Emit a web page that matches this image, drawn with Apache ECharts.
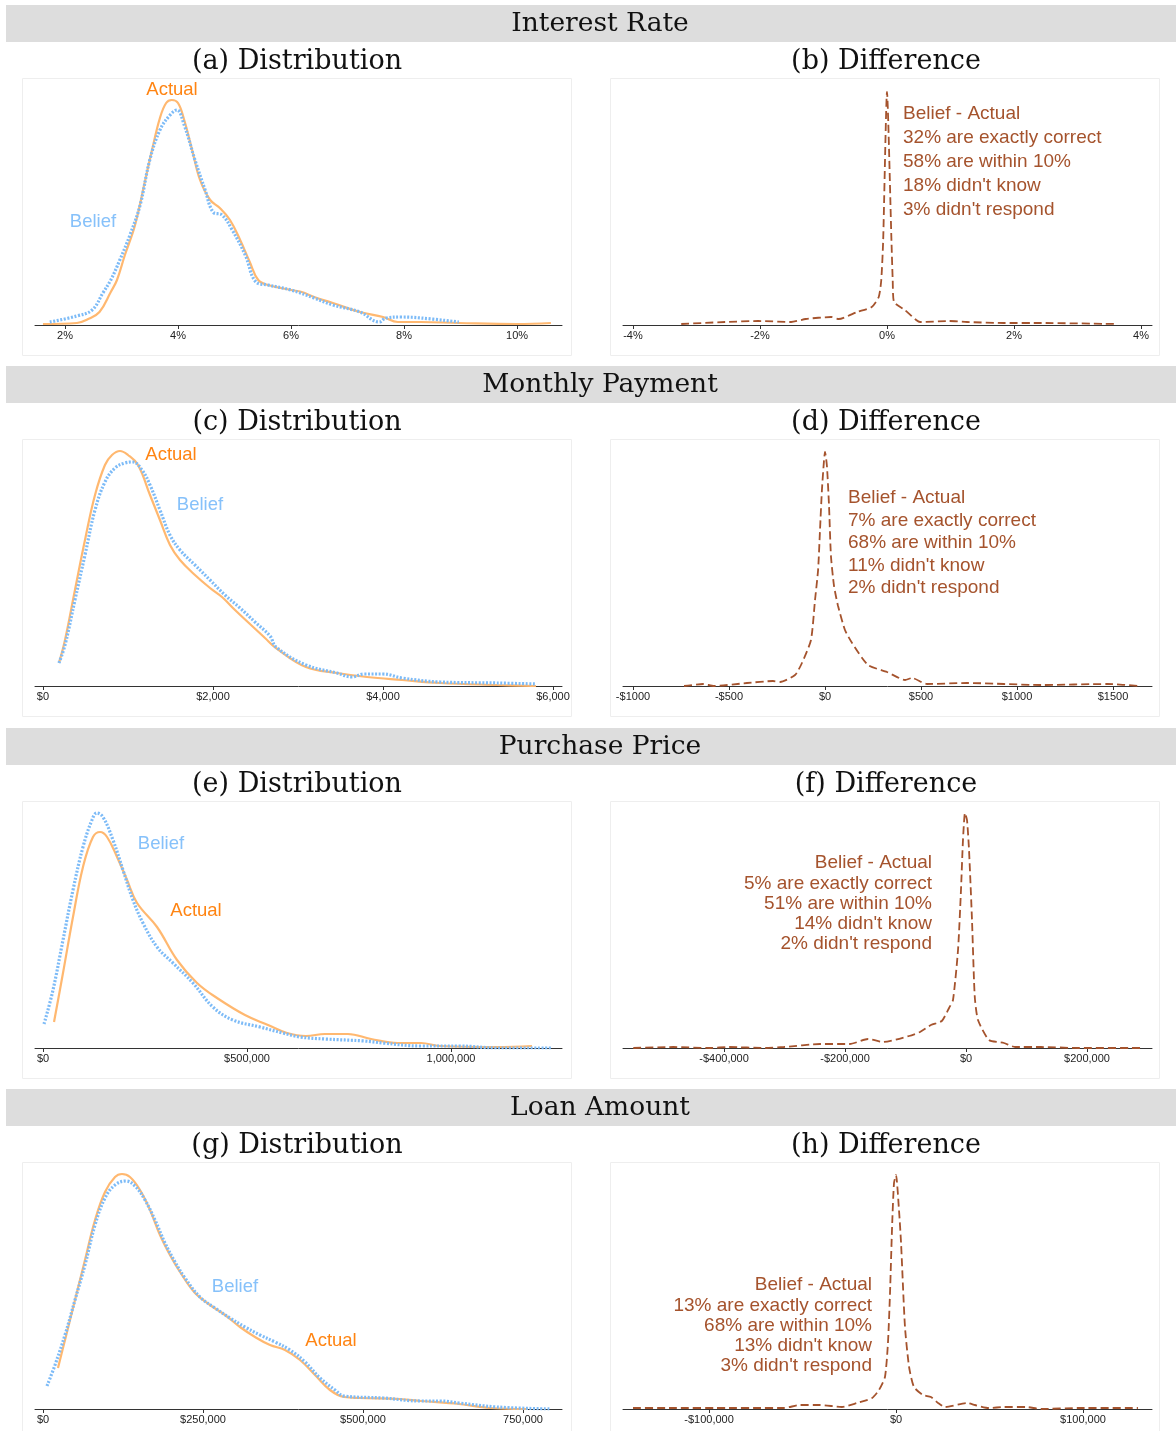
<!DOCTYPE html>
<html><head><meta charset="utf-8">
<script src="https://cdn.jsdelivr.net/npm/echarts@6/dist/echarts.min.js"></script>
<style>html,body{margin:0;padding:0;background:#fff}#c{width:1176px;height:1431px}</style>
</head><body><div id="c"></div>
<script>
// ---------------- DATA ----------------
const sectionTitles = ['Interest Rate', 'Monthly Payment', 'Purchase Price', 'Loan Amount'];
const panelTitles = ['(a) Distribution', '(b) Difference', '(c) Distribution', '(d) Difference',
                     '(e) Distribution', '(f) Difference', '(g) Distribution', '(h) Difference'];

// tick values and labels
const rateTicks = [2, 4, 6, 8, 10];
const rateTickLabels = ['2%', '4%', '6%', '8%', '10%'];
const rateDiffTicks = [-4, -2, 0, 2, 4];
const rateDiffTickLabels = ['-4%', '-2%', '0%', '2%', '4%'];
const payTicks = [0, 2000, 4000, 6000];
const payTickLabels = ['$0', '$2,000', '$4,000', '$6,000'];
const payDiffTicks = [-1000, -500, 0, 500, 1000, 1500];
const payDiffTickLabels = ['-$1000', '-$500', '$0', '$500', '$1000', '$1500'];
const priceTicks = [0, 500000, 1000000];
const priceTickLabels = ['$0', '$500,000', '1,000,000'];
const priceDiffTicks = [-400000, -200000, 0, 200000];
const priceDiffTickLabels = ['-$400,000', '-$200,000', '$0', '$200,000'];
const loanTicks = [0, 250000, 500000, 750000];
const loanTickLabels = ['$0', '$250,000', '$500,000', '750,000'];
const loanDiffTicks = [-100000, 0, 100000];
const loanDiffTickLabels = ['-$100,000', '$0', '$100,000'];

// densities (arbitrary units), [x, density]
const rateActual = [[1.61,1],[2.21,2],[2.41,6],[2.61,13],[2.81,33],[2.92,45],[3.06,70],[3.24,100],[3.42,145],[3.54,175],[3.68,207],[3.79,222],[3.89,225],[4.0,222],[4.11,205],[4.25,175],[4.39,145],[4.57,125],[4.74,117],[4.92,105],[5.10,85],[5.27,63],[5.42,45],[5.59,40],[6.0,35],[6.19,33],[6.41,28],[6.74,22],[7.22,13],[7.63,8],[7.89,3],[8.30,3],[8.97,2],[10.0,1],[10.6,2]];
const rateBelief = [[1.73,3],[2.21,9],[2.48,15],[2.67,32],[2.81,45],[2.97,65],[3.15,90],[3.33,120],[3.50,165],[3.68,195],[3.86,210],[3.98,215],[4.11,200],[4.30,165],[4.48,135],[4.62,113],[4.78,110],[4.96,95],[5.19,70],[5.38,43],[5.59,40],[6.0,35],[6.41,27],[6.74,20],[7.22,13],[7.56,3],[7.68,7],[7.96,8],[8.30,7],[8.97,3]];
const rateDiff = [[-3.24,1],[-2.55,3],[-2.03,4],[-1.51,3],[-1.28,6],[-0.88,8],[-0.76,6],[-0.47,13],[-0.24,18],[-0.13,28],[-0.09,45],[-0.06,85],[0,233],[0.07,85],[0.09,45],[0.11,23],[0.28,15],[0.46,5],[0.52,3],[0.98,4],[1.26,3],[1.84,2],[2.43,2],[3.6,1]];

const payActual = [[188,23],[259,46],[376,96],[494,146],[612,191],[729,221],[812,231],[906,235],[1000,231],[1118,221],[1259,191],[1376,166],[1494,141],[1612,126],[1788,111],[1965,98],[2106,89],[2259,76],[2435,62],[2612,48],[2741,38],[3094,19],[3459,13],[3812,9],[4224,6],[4671,3],[5341,1],[5800,0]];
const payBelief = [[188,23],[259,41],[376,86],[494,131],[612,176],[729,204],[847,218],[965,223],[1059,224],[1165,216],[1259,201],[1376,176],[1494,151],[1612,136],[1788,121],[1965,106],[2141,91],[2318,78],[2494,64],[2671,50],[2741,39],[3094,21],[3459,13],[3635,9],[3776,12],[4000,12],[4224,8],[4671,4],[5341,3],[5800,2]];
const payDiff = [[-734,0],[-635,2],[-578,0],[-406,3],[-271,5],[-234,4],[-156,11],[-120,23],[-73,46],[-52,86],[-36,116],[-26,156],[-16,196],[-5,226],[0,234],[10,220],[21,180],[31,130],[47,100],[68,80],[104,56],[141,43],[224,21],[323,14],[417,6],[453,8],[531,2],[740,3],[1125,1],[1469,2],[1640,0]];

const priceActual = [[27000,26],[49000,75],[73500,131],[98000,181],[122500,211],[140000,216],[157000,211],[181500,191],[206000,168],[230500,145],[279500,121],[328500,88],[377500,65],[426500,50],[495000,33],[551500,23],[598000,15],[644500,12],[691000,14],[747500,14],[804000,9],[870000,5],[926500,5],[973000,2],[1113000,1],[1198500,2]];
const priceBelief = [[2500,24],[24500,58],[49000,108],[73500,158],[98000,201],[120000,228],[132000,235],[147000,231],[171500,208],[196000,178],[220500,148],[245000,125],[279500,101],[318500,85],[367500,65],[416500,41],[465500,28],[532000,21],[588000,15],[630000,11],[691000,9],[787000,7],[833000,5],[926000,2],[1020000,2],[1113000,0],[1245000,0]];
const priceDiff = [[-550000,0],[-484000,1],[-423000,0],[-392000,1],[-332000,0],[-301000,1],[-241000,4],[-192000,4],[-162000,9],[-137000,6],[-94000,12],[-76000,16],[-58000,23],[-40000,27],[-28000,40],[-21500,48],[-13200,98],[-8300,158],[-5000,208],[-1650,235],[1650,228],[5000,198],[9900,128],[13200,68],[14900,48],[19800,28],[38000,8],[62800,5],[81000,1],[124000,1],[185000,0],[288000,0]];

const loanActual = [[23400,41],[34400,69],[50000,109],[65600,149],[81300,189],[96900,217],[112500,232],[123400,235],[135900,232],[151600,219],[167200,199],[182800,174],[198400,154],[214100,137],[237500,116],[260900,104],[284400,94],[307800,82],[331300,72],[354700,64],[378100,59],[401600,49],[425000,34],[448400,19],[470300,12],[495300,11],[557800,10],[590600,8],[650000,5],[698400,1],[757800,0]];
const loanBelief = [[6250,23],[18750,44],[34400,74],[50000,109],[65600,144],[81300,184],[96900,211],[112500,224],[129700,228],[143800,223],[159400,209],[175000,189],[190600,166],[206300,147],[221900,131],[245300,112],[268800,101],[292200,91],[315600,82],[339100,74],[362500,67],[385900,59],[409400,47],[432800,31],[456300,19],[470300,13],[531300,11],[590600,8],[620300,8],[650000,6],[709400,2],[793800,0]];
const loanDiff = [[-140650,1],[-119260,1],[-89300,1],[-73800,1],[-59900,1],[-51300,4],[-40600,4],[-28900,2],[-20900,6],[-12800,11],[-9100,19],[-5900,32],[-4300,66],[-3200,116],[-2100,182],[-1070,226],[0,234],[1600,199],[2700,166],[4800,82],[7000,42],[9600,22],[14400,14],[18700,12],[22500,6],[26200,2],[38000,6],[42200,4],[49700,1],[57800,2],[69500,2],[77500,0],[97300,1],[129400,1]];

const rateNotes = ['Belief - Actual', '32% are exactly correct', '58% are within 10%', "18% didn't know", "3% didn't respond"];
const payNotes = ['Belief - Actual', '7% are exactly correct', '68% are within 10%', "11% didn't know", "2% didn't respond"];
const priceNotes = ['Belief - Actual', '5% are exactly correct', '51% are within 10%', "14% didn't know", "2% didn't respond"];
const loanNotes = ['Belief - Actual', '13% are exactly correct', '68% are within 10%', "13% didn't know", "3% didn't respond"];

// ---------------- LAYOUT / STYLE ----------------
const bandTops = [5, 366, 728, 1089];
const C_ACT_LINE = '#ffb870', C_ACT_TXT = '#ff8412';
const C_BEL_LINE = '#7dbbf7', C_BEL_TXT = '#86c1fa';
const C_DIFF = '#a5532d';
const SERIF = '"DejaVu Serif", "Liberation Serif", serif';
const SANS = '"Liberation Sans", Arial, sans-serif';

const panels = [
  {row:0, side:0, min:1.469, max:10.796, ticks:rateTicks, labels:rateTickLabels,
   series:[{d:rateActual,k:'a'},{d:rateBelief,k:'b'}],
   tags:[{t:'Actual',x:172,y:90,k:'a'},{t:'Belief',x:93,y:222,k:'b'}]},
  {row:0, side:1, min:-4.157, max:4.173, ticks:rateDiffTicks, labels:rateDiffTickLabels,
   series:[{d:rateDiff,k:'d'}], notes:{lines:rateNotes, x:903, y:114, step:24, align:'left'}},
  {row:1, side:0, min:-94, max:6106, ticks:payTicks, labels:payTickLabels,
   series:[{d:payActual,k:'a'},{d:payBelief,k:'b'}],
   tags:[{t:'Actual',x:171,y:455,k:'a'},{t:'Belief',x:200,y:505,k:'b'}]},
  {row:1, side:1, min:-1052, max:1703, ticks:payDiffTicks, labels:payDiffTickLabels,
   series:[{d:payDiff,k:'d'}], notes:{lines:payNotes, x:848, y:498, step:22.5, align:'left'}},
  {row:2, side:0, min:-19608, max:1272069, ticks:priceTicks, labels:priceTickLabels,
   series:[{d:priceActual,k:'a'},{d:priceBelief,k:'b'}],
   tags:[{t:'Belief',x:161,y:844,k:'b'},{t:'Actual',x:196,y:911,k:'a'}]},
  {row:2, side:1, min:-567000, max:307458, ticks:priceDiffTicks, labels:priceDiffTickLabels,
   series:[{d:priceDiff,k:'d'}], notes:{lines:priceNotes, x:932, y:863, step:20.3, align:'right'}},
  {row:3, side:0, min:-12500, max:810937, ticks:loanTicks, labels:loanTickLabels,
   series:[{d:loanActual,k:'a'},{d:loanBelief,k:'b'}],
   tags:[{t:'Belief',x:235,y:1287,k:'b'},{t:'Actual',x:331,y:1341,k:'a'}]},
  {row:3, side:1, min:-146000, max:136909, ticks:loanDiffTicks, labels:loanDiffTickLabels,
   series:[{d:loanDiff,k:'d'}], notes:{lines:loanNotes, x:872, y:1285, step:20.3, align:'right'}}
];

const grids = [], xAxes = [], yAxes = [], series = [], graphics = [];

// section bands + titles
bandTops.forEach((bt, r) => {
  graphics.push({type:'rect', silent:true, shape:{x:6, y:bt, width:1170, height:37}, style:{fill:'#dddddd'}});
  graphics.push({type:'text', silent:true, x:600, y:bt + 19,
    style:{text:sectionTitles[r], font:'26.5px ' + SERIF, fill:'#111', textAlign:'center', textVerticalAlign:'middle'}});
});

panels.forEach((p, i) => {
  const bt = bandTops[p.row];
  const base = bt + 320;
  const gl = p.side === 0 ? 35 : 623;
  const gw = p.side === 0 ? 527 : 529;
  const fx = p.side === 0 ? 22.5 : 610.5;
  // frame
  graphics.push({type:'rect', silent:true, z:-1, shape:{x:fx, y:bt + 73.5, width:549, height:277},
    style:{fill:'none', stroke:'#eeeeee', lineWidth:1}});
  // panel title
  graphics.push({type:'text', silent:true, x:p.side === 0 ? 297 : 886, y:bt + 57,
    style:{text:panelTitles[i], font:'27px ' + SERIF, fill:'#111', textAlign:'center', textVerticalAlign:'middle'}});

  grids.push({left:gl, width:gw, top:base - 240, height:240});
  xAxes.push({type:'value', gridIndex:i, min:p.min, max:p.max,
    axisLine:{show:true, onZero:false, lineStyle:{color:'#333', width:1}},
    axisTick:{show:true, length:4, customValues:p.ticks, lineStyle:{color:'#333'}},
    axisLabel:{show:true, customValues:p.ticks, margin:5, fontSize:11, fontFamily:SANS, color:'#222',
      formatter:(v) => { const k = p.ticks.findIndex(t => Math.abs(t - v) < 1e-6 * (Math.abs(t) + 1)); return k >= 0 ? p.labels[k] : ''; }},
    splitLine:{show:false}});
  yAxes.push({type:'value', gridIndex:i, min:0, max:240, show:false, splitLine:{show:false}});

  p.series.forEach(s => {
    let ls;
    if (s.k === 'a') ls = {color:C_ACT_LINE, width:2.2, type:'solid'};
    else if (s.k === 'b') ls = {color:C_BEL_LINE, width:3.2, type:[2, 1.6], cap:'butt'};
    else ls = {color:C_DIFF, width:1.8, type:[8, 4], cap:'butt'};
    series.push({type:'line', xAxisIndex:i, yAxisIndex:i, data:s.d, showSymbol:false, silent:true,
      smooth:s.k === 'd' ? 0.2 : 0.4, lineStyle:ls, z:s.k === 'b' ? 3 : 2});
  });

  (p.tags || []).forEach(t => {
    graphics.push({type:'text', silent:true, x:t.x, y:t.y,
      style:{text:t.t, font:'18.5px ' + SANS, fill:t.k === 'a' ? C_ACT_TXT : C_BEL_TXT, textAlign:'center', textVerticalAlign:'middle'}});
  });
  if (p.notes) {
    p.notes.lines.forEach((ln, j) => {
      graphics.push({type:'text', silent:true, x:p.notes.x, y:p.notes.y + j * p.notes.step,
        style:{text:ln, font:'19px ' + SANS, fill:C_DIFF, textAlign:p.notes.align, textVerticalAlign:'middle'}});
    });
  }
});

const chart = echarts.init(document.getElementById('c'), null, {renderer:'canvas'});
chart.setOption({animation:false, backgroundColor:'#fff', grid:grids, xAxis:xAxes, yAxis:yAxes, series:series, graphic:graphics});
</script></body></html>
